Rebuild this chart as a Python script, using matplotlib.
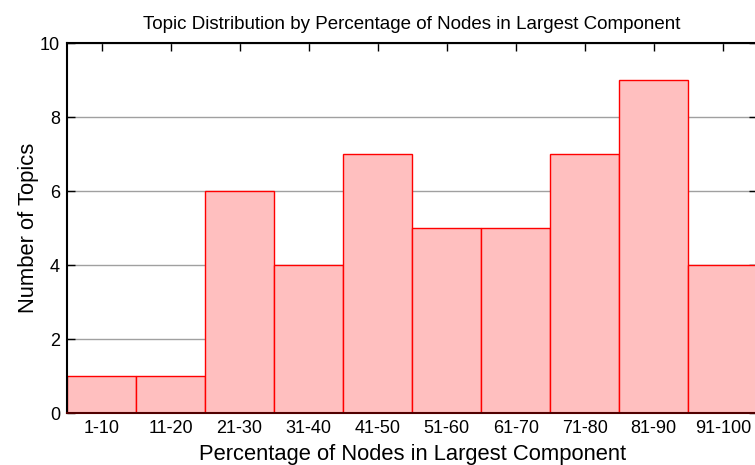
import matplotlib
matplotlib.use("Agg")
import matplotlib.pyplot as plt

categories = ["1-10", "11-20", "21-30", "31-40", "41-50", "51-60", "61-70", "71-80", "81-90", "91-100"]
counts = [1, 1, 6, 4, 7, 5, 5, 7, 9, 4]
yticks = [0, 2, 4, 6, 8, 10]

plt.rcParams['font.family'] = ['Liberation Sans', 'DejaVu Sans']

fig = plt.figure(figsize=(7.55, 4.65), dpi=100)
ax = fig.add_axes([67/755, 52/465, 1.0 - 67/755 + 0.003, 370/465])

x = list(range(len(categories)))
ax.bar(x, counts, width=1.0, color="#ffbfbf", edgecolor="#ff0000", linewidth=1.0, zorder=3)

ax.set_xlim(-0.5, 9.5)
ax.set_ylim(0, 10)
ax.set_yticks(yticks)
ax.set_xticks(x)
ax.set_xticklabels(categories)
ax.yaxis.grid(True, color="#a0a0a0", linewidth=1.0, zorder=0)
ax.set_axisbelow(True)

ax.tick_params(axis="both", direction="in", length=6, width=1.0, labelsize=13,
               top=True, right=True, pad=5)
for s in ax.spines.values():
    s.set_linewidth(1.5)
    s.set_zorder(4)
ax.spines["bottom"].set_color("#500000")

ax.set_title("Topic Distribution by Percentage of Nodes in Largest Component", fontsize=13.5, pad=10)
ax.set_xlabel("Percentage of Nodes in Largest Component", fontsize=15.8, labelpad=5)
ax.set_ylabel("Number of Topics", fontsize=15.8, labelpad=1)

fig.savefig("out.png", dpi=100)
